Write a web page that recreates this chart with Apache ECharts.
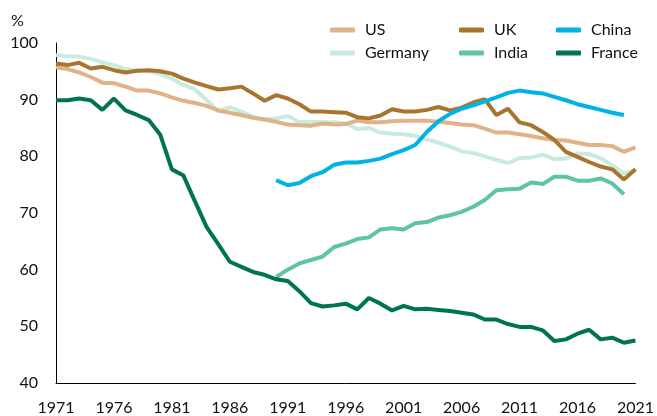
<!DOCTYPE html>
<html>
<head>
<meta charset="utf-8">
<script src="https://cdn.jsdelivr.net/npm/echarts@6/dist/echarts.min.js"></script>
<style>
  html, body { margin: 0; padding: 0; background: #fff; }
  #chart { width: 657px; height: 416px; }
</style>
</head>
<body>
<div id="chart"></div>
<script>
// years on the x axis
var years = [];
for (var y = 1971; y <= 2021; y++) years.push(String(y));

// series values (%)
var usData = [95.7, 95.4, 94.8, 94.0, 93.0, 92.9, 92.3, 91.6, 91.6, 91.1,
  90.4, 89.8, 89.4, 88.9, 88.1, 87.7, 87.3, 86.8, 86.5, 86.1,
  85.6, 85.5, 85.4, 85.8, 85.6, 85.7, 86.3, 86.0, 86.0, 86.2,
  86.3, 86.3, 86.3, 86.1, 85.9, 85.6, 85.5, 84.9, 84.2, 84.2,
  83.9, 83.6, 83.2, 82.9, 82.8, 82.4, 82.0, 82.0, 81.8, 80.8, 81.6];
var ukData = [96.4, 96.1, 96.5, 95.5, 95.8, 95.2, 94.8, 95.1, 95.2, 95.0,
  94.6, 93.7, 93.0, 92.4, 91.8, 92.0, 92.3, 91.1, 89.8, 90.8,
  90.2, 89.2, 87.9, 87.9, 87.8, 87.7, 86.9, 86.7, 87.2, 88.3,
  87.9, 87.9, 88.2, 88.7, 88.1, 88.6, 89.5, 90.1, 87.3, 88.4,
  86.0, 85.5, 84.3, 82.9, 80.8, 79.9, 79.0, 78.2, 77.7, 75.9, 77.7];
var germanyData = [97.9, 97.6, 97.6, 97.2, 96.6, 96.1, 95.4, 95.1, 95.0, 94.5,
  93.7, 92.6, 91.8, 89.9, 88.0, 88.7, 87.9, 87.0, 86.5, 86.7,
  87.1, 86.0, 86.1, 86.0, 86.0, 85.8, 84.8, 85.0, 84.2, 84.0,
  83.9, 83.6, 83.0, 82.4, 81.7, 80.9, 80.6, 80.0, 79.4, 78.8,
  79.7, 79.8, 80.3, 79.5, 79.6, 80.5, 80.4, 79.7, 78.4, 77.0, 77.5];
var franceData = [89.9, 89.9, 90.2, 89.9, 88.2, 90.2, 88.1, 87.3, 86.4, 83.8,
  77.7, 76.6, 72.0, 67.5, 64.5, 61.4, 60.5, 59.6, 59.1, 58.3,
  58.0, 56.2, 54.1, 53.5, 53.7, 54.0, 53.0, 55.0, 54.0, 52.8,
  53.6, 53.0, 53.1, 52.9, 52.7, 52.4, 52.1, 51.2, 51.2, 50.4,
  49.9, 49.9, 49.3, 47.4, 47.7, 48.7, 49.4, 47.7, 48.0, 47.1, 47.5];
// China and India: 1990-2020
var chinaData = [75.8, 74.9, 75.3, 76.5, 77.2, 78.5, 78.9, 78.9, 79.2, 79.6,
  80.4, 81.1, 82.0, 84.3, 86.2, 87.5, 88.4, 89.0, 89.7, 90.4,
  91.2, 91.6, 91.3, 91.1, 90.5, 89.9, 89.2, 88.7, 88.2, 87.7, 87.3];
var indiaData = [58.7, 60.0, 61.1, 61.7, 62.3, 64.0, 64.6, 65.4, 65.7, 67.1,
  67.3, 67.1, 68.2, 68.4, 69.2, 69.6, 70.2, 71.1, 72.3, 74.0,
  74.2, 74.3, 75.4, 75.1, 76.4, 76.4, 75.7, 75.7, 76.1, 75.2, 73.3];

// pad a series that starts in startYear onto the full year range
function pad(values, startYear) {
  var out = [];
  for (var i = 0; i < years.length; i++) {
    var k = Number(years[i]) - startYear;
    out.push(k >= 0 && k < values.length ? values[k] : null);
  }
  return out;
}

var colors = {
  US: '#dfb387',
  UK: '#a8752e',
  China: '#00b3e6',
  Germany: '#c9eadf',
  India: '#5ec4a1',
  France: '#007350'
};

var font = 'Lato, "Open Sans", sans-serif';

function line(name, data) {
  return {
    name: name,
    type: 'line',
    data: data,
    symbol: 'none',
    connectNulls: false,
    lineStyle: { width: 4, color: colors[name] },
    itemStyle: { color: colors[name] }
  };
}

function legend(left, names) {
  return {
    orient: 'vertical',
    left: left,
    top: 16,
    data: names,
    icon: 'roundRect',
    itemWidth: 25,
    itemHeight: 5,
    itemGap: 5,
    selectedMode: false,
    textStyle: {
      fontFamily: font,
      fontSize: 16,
      lineHeight: 18,
      color: '#111',
      padding: [0, 0, 0, 5]
    }
  };
}

var chart = echarts.init(document.getElementById('chart'));

var option = {
  animation: false,
  backgroundColor: '#fff',
  grid: { left: 56, right: 21, top: 43, bottom: 33 },
  legend: [
    legend(325, ['US', 'Germany']),
    legend(454, ['UK', 'India']),
    legend(551, ['China', 'France'])
  ],
  graphic: [{
    type: 'text',
    left: 11,
    top: 13,
    style: { text: '%', font: '16px ' + font, fill: '#111' }
  }],
  xAxis: {
    type: 'category',
    data: years,
    boundaryGap: false,
    axisLine: { lineStyle: { color: '#000', width: 1 } },
    axisTick: { show: false },
    axisLabel: {
      interval: 4,
      margin: 17,
      fontFamily: font,
      fontSize: 16,
      color: '#111'
    },
    splitLine: { show: false }
  },
  yAxis: {
    type: 'value',
    min: 40,
    max: 100,
    interval: 10,
    axisLine: { show: true, lineStyle: { color: '#000', width: 1 } },
    axisTick: { show: false },
    axisLabel: {
      margin: 18,
      fontFamily: font,
      fontSize: 16,
      color: '#111'
    },
    splitLine: { show: false }
  },
  series: [
    line('Germany', germanyData),
    line('US', usData),
    line('India', pad(indiaData, 1990)),
    line('UK', ukData),
    line('China', pad(chinaData, 1990)),
    line('France', franceData)
  ]
};

chart.setOption(option);
</script>
</body>
</html>
